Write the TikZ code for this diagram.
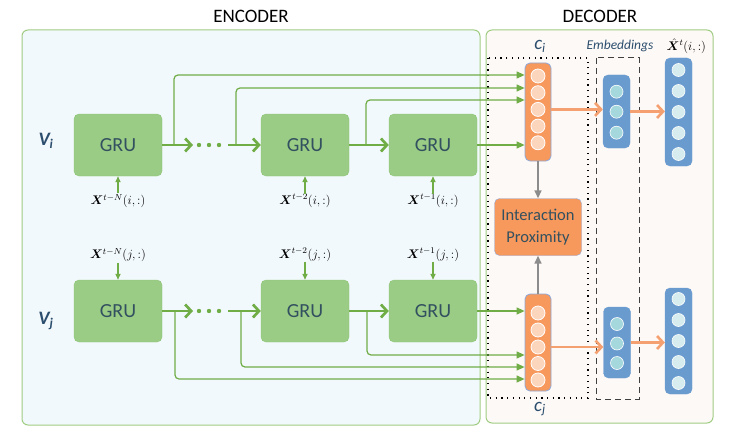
\RequirePackage{fix-cm}
\documentclass[tikz,border=0pt]{standalone}
\usepackage{fontspec}
\usepackage{amsmath,bm}
\setsansfont{Carlito}
\usetikzlibrary{arrows.meta}
\definecolor{encfill}{RGB}{242,249,252}
\definecolor{decfill}{RGB}{253,249,246}
\definecolor{framegreen}{RGB}{160,204,130}
\definecolor{grufill}{RGB}{155,204,134}
\definecolor{grudraw}{RGB}{140,196,116}
\definecolor{grutext}{RGB}{50,80,95}
\definecolor{linegreen}{RGB}{112,173,71}
\definecolor{orangecol}{RGB}{247,152,92}
\definecolor{orangedot}{RGB}{252,213,189}
\definecolor{bluecol}{RGB}{106,155,207}
\definecolor{embdot}{RGB}{165,216,221}
\definecolor{outdot}{RGB}{214,236,238}
\definecolor{colborder}{RGB}{142,169,219}
\definecolor{orangeline}{RGB}{244,160,112}
\definecolor{labelblue}{RGB}{44,78,110}

\begin{document}
\begin{tikzpicture}[x=1pt,y=-1pt,
        frame/.style={draw=framegreen, line width=1pt, rounded corners=6pt},
        title/.style={font=\sffamily\fontsize{19}{21}\selectfont},
        gru/.style={draw=grudraw, fill=grufill, rounded corners=5pt, minimum width=88pt, minimum height=62pt, text=grutext, font=\sffamily\fontsize{20}{22}\selectfont},
        vlabel/.style={text=labelblue, font=\sffamily\bfseries\itshape\fontsize{19}{21}\selectfont},
        clabel/.style={text=labelblue, font=\sffamily\itshape\fontsize{19}{21}\selectfont},
        xlabel/.style={inner sep=0.5pt, font=\fontsize{12.5}{15}\selectfont},
        ccol/.style={draw=colborder, fill=orangecol, rounded corners=5pt, minimum width=26pt, line width=0.8pt},
        bcol/.style={draw=bluecol, fill=bluecol, rounded corners=5pt, minimum width=27pt},
        cdot/.style={circle, draw=white, fill=orangedot, minimum size=14pt, inner sep=0pt, line width=0.8pt},
        edot/.style={circle, draw=white, fill=embdot, minimum size=13pt, inner sep=0pt, line width=0.6pt},
        odot/.style={circle, draw=white, fill=outdot, minimum size=13pt, inner sep=0pt, line width=0.6pt},
        ipbox/.style={draw=colborder, fill=orangecol, rounded corners=5pt, minimum width=87pt, minimum height=57pt, align=center, text=grutext, font=\sffamily\fontsize{16.5}{22}\selectfont},
        thick arrow/.style={-{Straight Barb[length=6pt,width=13pt]}, line width=2.7pt, linegreen},
        skip/.style={-{Triangle[length=8pt,width=7pt]}, line width=1.2pt, linegreen, rounded corners=4pt},
        in arrow/.style={-{Triangle[length=6pt,width=5pt]}, line width=2pt, linegreen},
        gray arrow/.style={-{Triangle[length=8pt,width=7pt]}, line width=1.5pt, black!45},
        or arrow/.style={-{Straight Barb[length=6pt,width=13pt]}, line width=2.6pt, orangeline}
    ]
        \useasboundingbox (0,0) rectangle (735,433);
        % frames
        \draw[frame, fill=encfill] (22,30) rectangle (480,425);
        \draw[frame, fill=decfill] (486,30) rectangle (713,423);
        \node[title] (enc) at (251,16) {ENCODER};
        \node[title] (dec) at (600,16) {DECODER};
        \draw[line width=1.3pt, dash pattern=on 1.2pt off 4.5pt] (488,58) rectangle (588,398);
        \draw[line width=1pt, black!75, dash pattern=on 6pt off 4pt] (596,58) rectangle (639,399);

        \node[vlabel] (vi) at (46,141) {V\textsubscript{i}};
        \node[vlabel] (vj) at (46,321) {V\textsubscript{j}};

        % GRU chains
        \node[gru] (gi1) at (118,145) {GRU};
        \node[gru] (gi2) at (305,145) {GRU};
        \node[gru] (gi3) at (433,145) {GRU};
        \node[gru] (gj1) at (118,311) {GRU};
        \node[gru] (gj2) at (305,311) {GRU};
        \node[gru] (gj3) at (433,311) {GRU};

        \node[xlabel] (xi1) at (118,201) {$\bm{X}^{t-N}(i,:)$};
        \node[xlabel] (xi2) at (305,201) {$\bm{X}^{t-2}(i,:)$};
        \node[xlabel] (xi3) at (433,201) {$\bm{X}^{t-1}(i,:)$};
        \node[xlabel] (xj1) at (118,255) {$\bm{X}^{t-N}(j,:)$};
        \node[xlabel] (xj2) at (305,255) {$\bm{X}^{t-2}(j,:)$};
        \node[xlabel] (xj3) at (433,255) {$\bm{X}^{t-1}(j,:)$};
        \foreach \k in {1,2,3} {
            \draw[in arrow] (xi\k) -- (gi\k);
            \draw[in arrow] (xj\k) -- (gj\k);
        }

        % decoder columns
        \node[ccol, minimum height=98pt] (ci) at (538,112) {};
        \foreach \y [count=\k] in {76,92.7,109.4,126.1,142.8}
            \node[cdot] (ci-\k) at (538,\y) {};
        \node[ccol, minimum height=97pt] (cj) at (538,342.5) {};
        \foreach \y [count=\k] in {313,330,347,363.5,380}
            \node[cdot] (cj-\k) at (538,\y) {};
        \node[clabel] (cil) at (540,46) {c\textsubscript{i}};
        \node[clabel] (cjl) at (540,409) {c\textsubscript{j}};

        \node[ipbox] (ip) at (538,227) {Interaction\\Proximity};
        \draw[gray arrow] (ci) -- (ip);
        \draw[gray arrow] (cj) -- (ip);

        \node[bcol, minimum height=73pt] (ei) at (616.5,111.5) {};
        \foreach \y [count=\k] in {91.7,111.7,132.7}
            \node[edot] (ei-\k) at (616.5,\y) {};
        \node[bcol, minimum height=71pt] (ej) at (617,342.5) {};
        \foreach \y [count=\k] in {324,343.5,363}
            \node[edot] (ej-\k) at (617,\y) {};
        \node[bcol, minimum height=108pt] (oi) at (678.5,112) {};
        \foreach \y [count=\k] in {70,91,112,133,154}
            \node[odot] (oi-\k) at (678.5,\y) {};
        \node[bcol, minimum height=106pt] (oj) at (678.5,341) {};
        \foreach \y [count=\k] in {299,320,341,362,383}
            \node[odot] (oj-\k) at (678.5,\y) {};
        \node[clabel, inner sep=0.5pt, font=\sffamily\itshape\fontsize{13.5}{16}\selectfont] (emb) at (620,46) {Embeddings};
        \node[xlabel, anchor=west] (xhat) at (666,46) {$\hat{\bm{X}}^{t}(i,:)$};

        % recurrent links
        \coordinate (di-a) at (193,145);
        \coordinate (di-b) at (228,145);
        \coordinate (dj-a) at (193,311);
        \coordinate (dj-b) at (228,311);
        \foreach \x in {199,209,219} {
            \fill[linegreen] (\x,145) circle (2.2pt);
            \fill[linegreen] (\x,311) circle (2.2pt);
        }
        \draw[thick arrow] (gi1) -- (di-a);
        \draw[thick arrow] (di-b) -- (gi2);
        \draw[thick arrow] (gi2) -- (gi3);
        \draw[thick arrow] (gj1) -- (dj-a);
        \draw[thick arrow] (dj-b) -- (gj2);
        \draw[thick arrow] (gj2) -- (gj3);

        % hidden states to c_i and c_j
        \coordinate (si-1) at (174,145);
        \coordinate (si-2) at (236,145);
        \coordinate (si-3) at (366,145);
        \coordinate (sj-1) at (175,311);
        \coordinate (sj-2) at (241,311);
        \coordinate (sj-3) at (367,311);
        \draw[skip] (si-1) |- (ci.west |- 0,75);
        \draw[skip] (si-2) |- (ci.west |- 0,88);
        \draw[skip] (si-3) |- (ci.west |- 0,100);
        \draw[skip] (gi3) -- (gi3 -| ci.west);
        \draw[skip] (sj-1) |- (cj.west |- 0,379);
        \draw[skip] (sj-2) |- (cj.west |- 0,367);
        \draw[skip] (sj-3) |- (cj.west |- 0,355);
        \draw[skip] (gj3) -- (gj3 -| cj.west);

        % embeddings
        \draw[or arrow] (ci-3 -| ci.east) -- (ci-3 -| ei.west);
        \draw[or arrow] (ei.east) -- (ei.east -| oi.west);
        \draw[or arrow] (cj-3 -| cj.east) -- (cj-3 -| ej.west);
        \draw[or arrow] (ej.east) -- (ej.east -| oj.west);
    \end{tikzpicture}
\end{document}
